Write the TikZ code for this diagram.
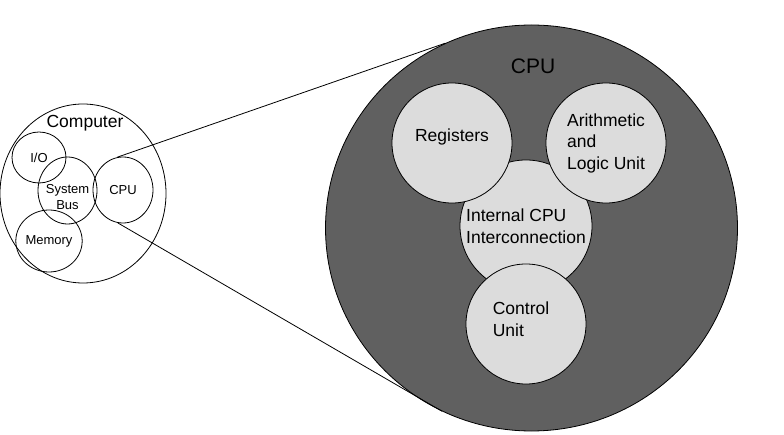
\documentclass[tikz,border=0pt]{standalone}
\usepackage{fontspec}
\setmainfont{Liberation Sans}
\usetikzlibrary{shapes.geometric}

\definecolor{cpugray}{RGB}{96,96,96}
\definecolor{unitgray}{RGB}{220,220,220}

\tikzset{
  outer/.style={draw, ellipse, line width=0.8pt, inner sep=0pt},
  part/.style={draw, ellipse, line width=0.8pt, inner sep=0pt, align=center,
    font=\fontsize{13}{16}\selectfont},
  unit/.style={draw, circle, fill=unitgray, line width=0.8pt, inner sep=0pt,
    minimum size=120pt, align=left, font=\fontsize{17.5}{21.5}\selectfont},
  caption/.style={font=\fontsize{17.5}{21.5}\selectfont},
}

\begin{document}
\begin{tikzpicture}[x=1pt, y=-1pt]
  \useasboundingbox (0,0) rectangle (784,435);

  % computer
  \node[outer, minimum width=166pt, minimum height=179pt] (computer) at (83,193.5) {};
  \node[caption] (computerlabel) at (85,123) {Computer};
  \node[part, minimum width=54pt, minimum height=51pt] (io) at (39,157.5) {I/O};
  \node[part, minimum width=59pt, minimum height=67pt,
    label={[name=buslabel, align=center, font=\fontsize{13}{16}\selectfont, yshift=-7pt]center:System\\Bus}] (bus) at (67.5,190.5) {};
  \node[part, minimum width=60pt, minimum height=66pt] (smallcpu) at (123,190) {CPU};
  \node[part, minimum width=62pt, minimum height=62pt] (memory) at (49,241) {Memory};

  % cpu
  \node[outer, fill=cpugray, minimum width=412pt, minimum height=406pt] (cpu) at (531.5,228) {};
  \node[font=\fontsize{21}{25}\selectfont] (cpulabel) at (533,66) {CPU};
  \node[unit, minimum size=132pt] (interconnect) at (526,226) {Internal CPU\\Interconnection};
  \node[unit, label={[name=reglabel, caption, yshift=6pt]center:Registers}] (registers) at (452,143) {};
  \node[unit] (alu) at (606,143) {Arithmetic\\and\\Logic Unit};
  \node[unit, label={[name=controllabel, caption, align=left, xshift=-5pt, yshift=5pt]center:Control\\Unit}] (control) at (526,324) {};

  \path[line width=0.8pt] (smallcpu.100) edge (cpu.115.7);
  \path[line width=0.8pt] (smallcpu.261) edge (cpu.244.3);
\end{tikzpicture}
\end{document}
